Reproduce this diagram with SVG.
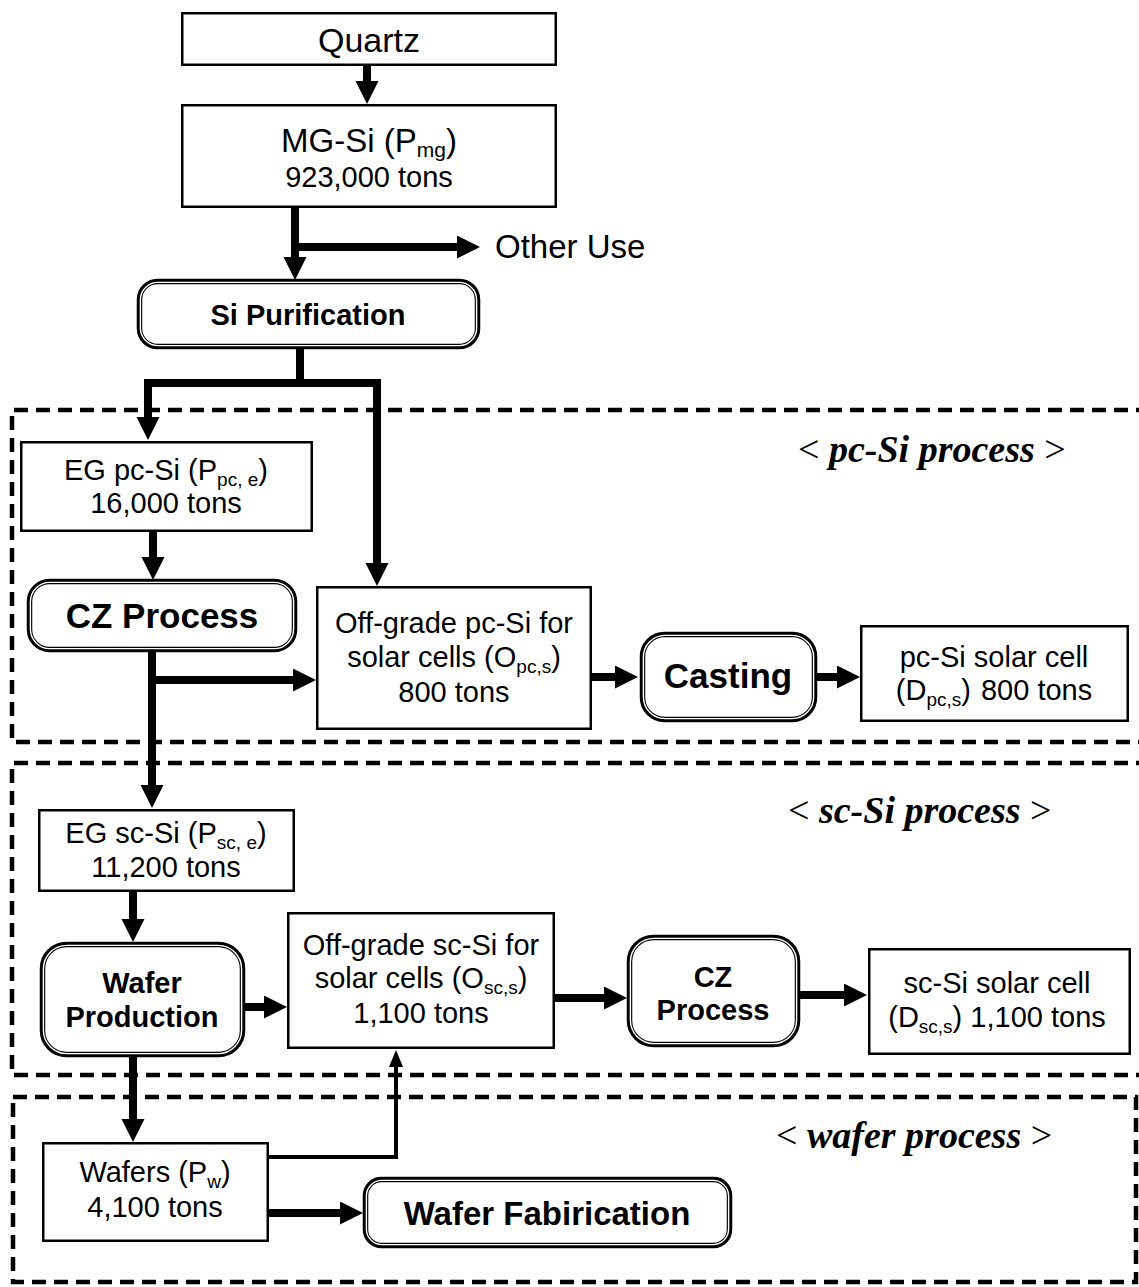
<svg xmlns="http://www.w3.org/2000/svg" width="1139" height="1287" viewBox="0 0 1139 1287">
<style>
.box{fill:#fff;stroke:#000;stroke-width:2.5}
.dbo{fill:#fff;stroke:#000;stroke-width:5.5}
.dbi{fill:none;stroke:#fff;stroke-width:1.4}
.t{font-family:"Liberation Sans",Arial,sans-serif;font-size:29px;fill:#000;text-anchor:middle}
.b{font-weight:bold}
.sub{font-size:19px}
.lab{font-family:"Liberation Serif","Times New Roman",serif;font-style:italic;font-weight:bold;font-size:38px;fill:#000}
.ang{font-style:normal;font-weight:normal}
.dash{fill:none;stroke:#000;stroke-width:4.5;stroke-dasharray:14 8}
.c{fill:none;stroke:#000;stroke-width:8;stroke-linejoin:miter}
.c2{fill:none;stroke:#000;stroke-width:4}
</style>
<defs>
<marker id="ah" markerUnits="userSpaceOnUse" markerWidth="24" markerHeight="24" refX="1" refY="11.5" orient="auto"><path d="M0,0 L23,11.5 L0,23 z" fill="#000"/></marker>
<marker id="ahs" markerUnits="userSpaceOnUse" markerWidth="18" markerHeight="16" refX="1" refY="7" orient="auto"><path d="M0,0 L17,7 L0,14 z" fill="#000"/></marker>
</defs>
<rect width="1139" height="1287" fill="#fff"/>
<g id="regions">
<path class="dash" d="M1150,410 H12 V742 H1150"/>
<path class="dash" d="M1150,763 H12 V1075 H1150"/>
<rect class="dash" x="13" y="1097" width="1123" height="185"/>
<text class="lab" x="798" y="462"><tspan class="ang">&lt;</tspan> pc-Si process <tspan class="ang">&gt;</tspan></text>
<text class="lab" x="788" y="823"><tspan class="ang">&lt;</tspan> sc-Si process <tspan class="ang">&gt;</tspan></text>
<text class="lab" x="776" y="1148"><tspan class="ang">&lt;</tspan> wafer process <tspan class="ang">&gt;</tspan></text>
</g>
<g id="connectors">
<path class="c" d="M367,66 V82" marker-end="url(#ah)"/>
<path class="c" d="M295,208 V258" marker-end="url(#ah)"/>
<path class="c" d="M295,247 H458" marker-end="url(#ah)"/>
<path class="c" d="M300,349 V383"/>
<path class="c" d="M300,383 H148 V418" marker-end="url(#ah)"/>
<path class="c" d="M300,383 H377 V564" marker-end="url(#ah)"/>
<path class="c" d="M153,532 V558" marker-end="url(#ah)"/>
<path class="c" d="M152,652 V786" marker-end="url(#ah)"/>
<path class="c" d="M152,680 H294" marker-end="url(#ah)"/>
<path class="c" d="M592,677 H616" marker-end="url(#ah)"/>
<path class="c" d="M817,677 H838" marker-end="url(#ah)"/>
<path class="c" d="M133,892 V920" marker-end="url(#ah)"/>
<path class="c" d="M245,1007 H265" marker-end="url(#ah)"/>
<path class="c" d="M555,998 H605" marker-end="url(#ah)"/>
<path class="c" d="M800,995 H845" marker-end="url(#ah)"/>
<path class="c" d="M133,1057 V1120" marker-end="url(#ah)"/>
<path class="c2" d="M269,1157 H396 V1066" marker-end="url(#ahs)"/>
<path class="c" d="M269,1213 H341" marker-end="url(#ah)"/>
<text class="t" x="495" y="258" style="text-anchor:start;font-size:33px">Other Use</text>
</g>
<g id="quartz">
<rect class="box" x="182.25" y="13.25" width="373.5" height="51.5"/>
<text class="t" x="369" y="52" style="font-size:34px">Quartz</text>
</g>
<g id="mg-si">
<rect class="box" x="182.25" y="105.25" width="373.5" height="101.5"/>
<text class="t" x="369" y="152" style="font-size:33px">MG-Si (P<tspan class="sub" style="font-size:21px" dy="5">mg</tspan><tspan dy="-5">)</tspan></text>
<text class="t" x="369" y="187">923,000 tons</text>
</g>
<g id="si-purification">
<rect class="dbo" x="139.5" y="281.5" width="338" height="65" rx="18"/>
<rect class="dbi" x="140.4" y="282.4" width="336.2" height="63.2" rx="17.5"/>
<text class="t b" x="308" y="325">Si Purification</text>
</g>
<g id="eg-pc-si">
<rect class="box" x="21.25" y="442.25" width="290.5" height="88.5"/>
<text class="t" x="166" y="480">EG pc-Si (P<tspan class="sub" dy="6">pc, e</tspan><tspan dy="-6">)</tspan></text>
<text class="t" x="166" y="513">16,000 tons</text>
</g>
<g id="cz-process-pc">
<rect class="dbo" x="29.5" y="581.5" width="265" height="68" rx="20"/>
<rect class="dbi" x="30.4" y="582.4" width="263.2" height="66.2" rx="19.5"/>
<text class="t b" x="162" y="628" style="font-size:35px">CZ Process</text>
</g>
<g id="offgrade-pc">
<rect class="box" x="317.25" y="587.25" width="273.5" height="141.5"/>
<text class="t" x="454" y="633">Off-grade pc-Si for</text>
<text class="t" x="454" y="667">solar cells (O<tspan class="sub" dy="6">pc,s</tspan><tspan dy="-6">)</tspan></text>
<text class="t" x="454" y="702">800 tons</text>
</g>
<g id="casting">
<rect class="dbo" x="642.5" y="634.5" width="172" height="85" rx="22"/>
<rect class="dbi" x="643.4" y="635.4" width="170.2" height="83.2" rx="21.5"/>
<text class="t b" x="728" y="688" style="font-size:35px">Casting</text>
</g>
<g id="pc-solar-cell">
<rect class="box" x="861.25" y="626.25" width="266.5" height="94.5"/>
<text class="t" x="994" y="667">pc-Si solar cell</text>
<text class="t" x="994" y="700">(D<tspan class="sub" dy="6">pc,s</tspan><tspan dy="-6">)</tspan><tspan dx="10">800 tons</tspan></text>
</g>
<g id="eg-sc-si">
<rect class="box" x="39.25" y="810.25" width="254.5" height="80.5"/>
<text class="t" x="166" y="843">EG sc-Si (P<tspan class="sub" dy="6">sc, e</tspan><tspan dy="-6">)</tspan></text>
<text class="t" x="166" y="877">11,200 tons</text>
</g>
<g id="wafer-production">
<rect class="dbo" x="42.5" y="944.5" width="200" height="110" rx="24"/>
<rect class="dbi" x="43.4" y="945.4" width="198.2" height="108.2" rx="23.5"/>
<text class="t b" x="142" y="993">Wafer</text>
<text class="t b" x="142" y="1027">Production</text>
</g>
<g id="offgrade-sc">
<rect class="box" x="288.25" y="913.25" width="265.5" height="134.5"/>
<text class="t" x="421" y="955">Off-grade sc-Si for</text>
<text class="t" x="421" y="988">solar cells (O<tspan class="sub" dy="6">sc,s</tspan><tspan dy="-6">)</tspan></text>
<text class="t" x="421" y="1023">1,100 tons</text>
</g>
<g id="cz-process-sc">
<rect class="dbo" x="629.5" y="937.5" width="168" height="107" rx="24"/>
<rect class="dbi" x="630.4" y="938.4" width="166.2" height="105.2" rx="23.5"/>
<text class="t b" x="713" y="987">CZ</text>
<text class="t b" x="713" y="1020">Process</text>
</g>
<g id="sc-solar-cell">
<rect class="box" x="869.25" y="949.25" width="260.5" height="104.5"/>
<text class="t" x="997" y="993">sc-Si solar cell</text>
<text class="t" x="997" y="1027">(D<tspan class="sub" dy="6">sc,s</tspan><tspan dy="-6">) 1,100 tons</tspan></text>
</g>
<g id="wafers">
<rect class="box" x="43.25" y="1143.25" width="224.5" height="97.5"/>
<text class="t" x="155" y="1182">Wafers (P<tspan class="sub" dy="6">w</tspan><tspan dy="-6">)</tspan></text>
<text class="t" x="155" y="1217">4,100 tons</text>
</g>
<g id="wafer-fabrication">
<rect class="dbo" x="365.5" y="1179.5" width="364" height="66" rx="16"/>
<rect class="dbi" x="366.4" y="1180.4" width="362.2" height="64.2" rx="15.5"/>
<text class="t b" x="547" y="1225" style="font-size:33px">Wafer Fabirication</text>
</g>
</svg>
